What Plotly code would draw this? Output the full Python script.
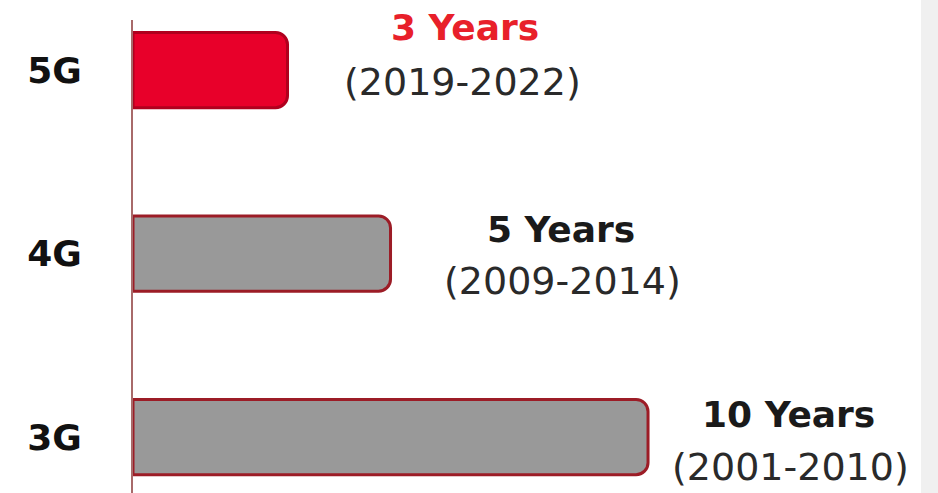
import plotly.graph_objects as go

categories = ["3G", "4G", "5G"]
years = [10, 5, 3]
titles = ["10 Years", "5 Years", "3 Years"]
periods = ["(2001-2010)", "(2009-2014)", "(2019-2022)"]

fill_colors = ["#999999", "#999999", "#e8002a"]
line_colors = ["#9c1c26", "#9c1c26", "#b0001e"]
title_colors = ["#1a1a1a", "#1a1a1a", "#e8202a"]

FONT = "DejaVu Sans"

fig = go.Figure()
fig.add_trace(go.Bar(
    y=categories, x=years, orientation="h", width=0.41,
    marker=dict(color=fill_colors, line=dict(color=line_colors, width=3), cornerradius=12),
    hoverinfo="skip",
))

title_shift = [(140, 23), (170, 24), (177, 43)]
period_shift = [(142, -30), (172, -27), (175, -12)]
for i, c in enumerate(categories):
    fig.add_annotation(x=years[i], y=c, text="<b>%s</b>" % titles[i], showarrow=False,
                       xanchor="center", yanchor="middle",
                       xshift=title_shift[i][0], yshift=title_shift[i][1],
                       font=dict(family=FONT, size=36, color=title_colors[i]))
    fig.add_annotation(x=years[i], y=c, text=periods[i], showarrow=False,
                       xanchor="center", yanchor="middle",
                       xshift=period_shift[i][0], yshift=period_shift[i][1],
                       font=dict(family=FONT, size=38, color="#2a2a2a"))

fig.add_shape(type="rect", xref="paper", yref="paper", x0=1.0, x1=1.03, y0=-0.1, y1=1.1,
              fillcolor="#f0f0f0", line=dict(width=0), layer="below")

fig.update_layout(
    width=938, height=493, margin=dict(l=133, r=17, t=20, b=0),
    paper_bgcolor="white", plot_bgcolor="white", showlegend=False,
    xaxis=dict(range=[0, 15.3], visible=False, fixedrange=True),
    yaxis=dict(range=[-0.305, 2.273], showline=True, linecolor="#a86a6a", linewidth=2,
               showgrid=False, zeroline=False, ticks="", ticklabelstandoff=42,
               tickfont=dict(family=FONT, size=36, color="#111111", weight="bold"),
               fixedrange=True),
)

fig.write_html("out.html", config={"displayModeBar": False})
